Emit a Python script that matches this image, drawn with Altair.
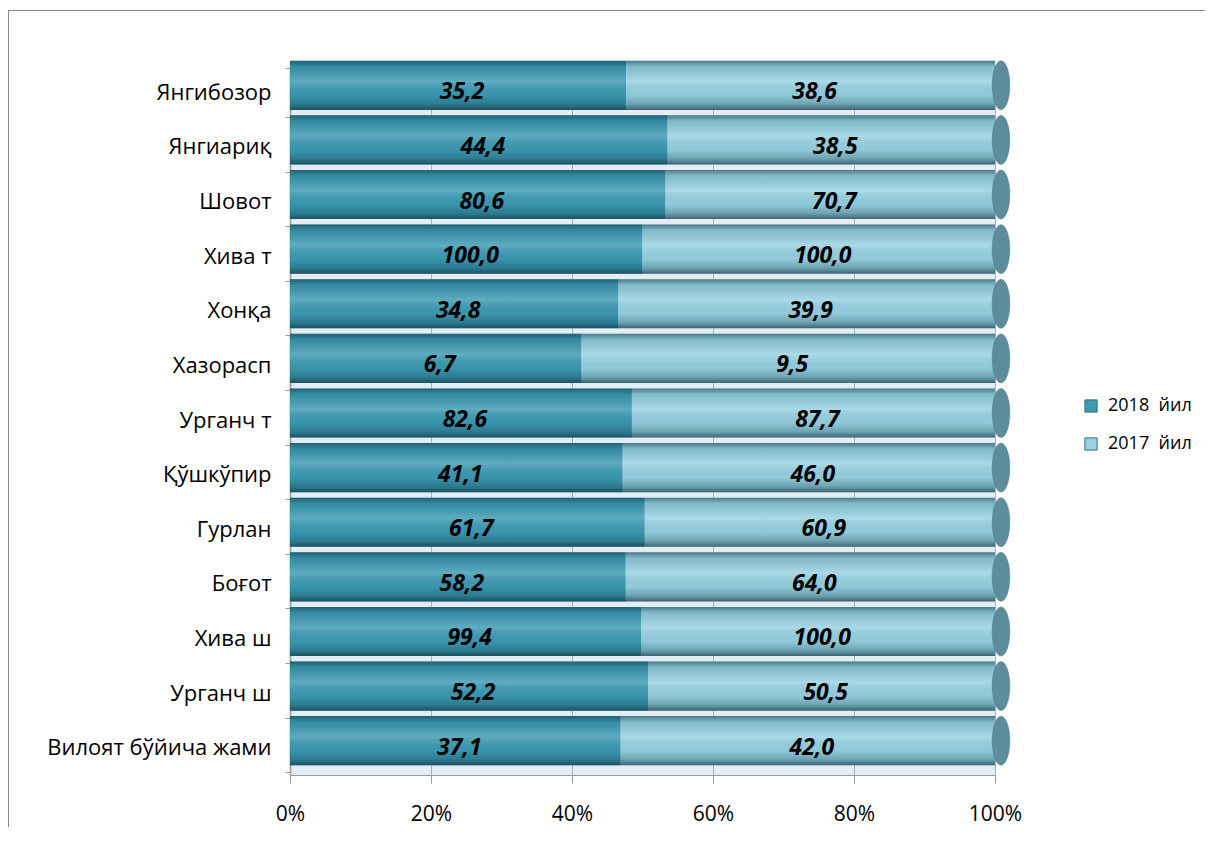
import altair as alt
import pandas as pd

regions = ["Янгибозор", "Янгиариқ", "Шовот", "Хива т", "Хонқа", "Хазорасп", "Урганч т",
           "Қўшкўпир", "Гурлан", "Боғот", "Хива ш", "Урганч ш", "Вилоят бўйича жами"]
v2018 = [35.2, 44.4, 80.6, 100.0, 34.8, 6.7, 82.6, 41.1, 61.7, 58.2, 99.4, 52.2, 37.1]
v2017 = [38.6, 38.5, 70.7, 100.0, 39.9, 9.5, 87.7, 46.0, 60.9, 64.0, 100.0, 50.5, 42.0]
series = ["2018\u00a0 йил", "2017\u00a0 йил"]
colors = ["#3c9ab3", "#98d2e2"]

rows = []
for r, a, b in zip(regions, v2018, v2017):
    tot = a + b
    s = a / tot
    rows.append({"region": r, "series": series[0], "start": 0.0, "end": s,
                 "mid": s / 2, "label": f"{a:.1f}".replace(".", ",")})
    rows.append({"region": r, "series": series[1], "start": s, "end": 1.0,
                 "mid": (s + 1) / 2, "label": f"{b:.1f}".replace(".", ",")})
df = pd.DataFrame(rows)
base_df = pd.DataFrame({"region": regions})

W, H = 705, 710
FONT = "Open Sans"
YOFF = -7

yenc = alt.Y("region:N", sort=regions,
             scale=alt.Scale(paddingInner=0.1, paddingOuter=0.05),
             axis=alt.Axis(title=None, labelFontSize=22, labelFont=FONT, labelColor="#000000",
                           labelPadding=14, labelLimit=400, tickBand="extent",
                           tickColor="#999999", tickSize=5,
                           domainColor="#aaaaaa", domainWidth=2))

bars = alt.Chart(df).mark_bar(yOffset=YOFF).encode(
    x=alt.X("start:Q", scale=alt.Scale(domain=[0, 1]),
            axis=alt.Axis(title=None, format=".0%", values=[0, 0.2, 0.4, 0.6, 0.8, 1.0],
                          labelFontSize=21, labelFont=FONT, labelColor="#000000",
                          labelFlush=False, labelPadding=20, tickSize=8, tickColor="#999999",
                          domainColor="#999999", grid=True, gridColor="#a9b3ba")),
    x2="end:Q",
    y=yenc,
    color=alt.Color("series:N", sort=series,
                    scale=alt.Scale(domain=series, range=colors),
                    legend=alt.Legend(title=None, orient="none", legendX=792, legendY=332,
                                      symbolType="square", symbolSize=150,
                                      symbolStrokeColor="#3a6f80", symbolStrokeWidth=1,
                                      labelFontSize=18, labelFont=FONT, rowPadding=20,
                                      labelOffset=8, labelColor="#000000")),
)

shade = alt.Chart(base_df).mark_bar(
    yOffset=YOFF,
    color=alt.Gradient(
        gradient="linear", x1=0, x2=0, y1=0, y2=1,
        stops=[alt.GradientStop(offset=0, color="rgba(10,50,65,0.55)"),
               alt.GradientStop(offset=0.12, color="rgba(10,50,65,0.15)"),
               alt.GradientStop(offset=0.42, color="rgba(255,255,255,0.18)"),
               alt.GradientStop(offset=0.7, color="rgba(10,50,65,0.05)"),
               alt.GradientStop(offset=0.88, color="rgba(10,50,65,0.3)"),
               alt.GradientStop(offset=1, color="rgba(10,40,55,0.65)")])
).encode(x=alt.datum(0), x2=alt.datum(1), y=alt.Y("region:N", sort=regions))

caps = alt.Chart(base_df).mark_point(
    shape="M0,-1A0.36,1,0,1,1,0,1A0.36,1,0,1,1,0,-1Z",
    filled=True, size=2400, color="#5d8d9d", opacity=1, xOffset=6, yOffset=YOFF,
    stroke="#4a7888", strokeWidth=0.5
).encode(x=alt.datum(1), y=alt.Y("region:N", sort=regions))

labels = alt.Chart(df).mark_text(
    fontSize=23, font=FONT, fontWeight="bold", fontStyle="italic", color="#000000", dx=4
).encode(x="mid:Q", y=alt.Y("region:N", sort=regions), text="label:N")

frame_top = alt.Chart(base_df).mark_rule(color="#888888", strokeWidth=1).encode(
    x=alt.value(-281.5), x2=alt.value(W + 300), y=alt.value(-54.5))
frame_left = alt.Chart(base_df).mark_rule(color="#888888", strokeWidth=1).encode(
    x=alt.value(-281.5), y=alt.value(-54.5), y2=alt.value(H + 200))

chart = alt.layer(bars, shade, caps, labels, frame_top, frame_left).properties(
    width=W, height=H,
    autosize=alt.AutoSizeParams(type="none"),
    padding={"left": 282, "top": 57, "right": 210, "bottom": 52},
    background="#ffffff",
).configure_view(fill="#e3edf3", stroke="#c8d0d6")

chart.save("out.html", embed_options={"renderer": "svg", "actions": False})
